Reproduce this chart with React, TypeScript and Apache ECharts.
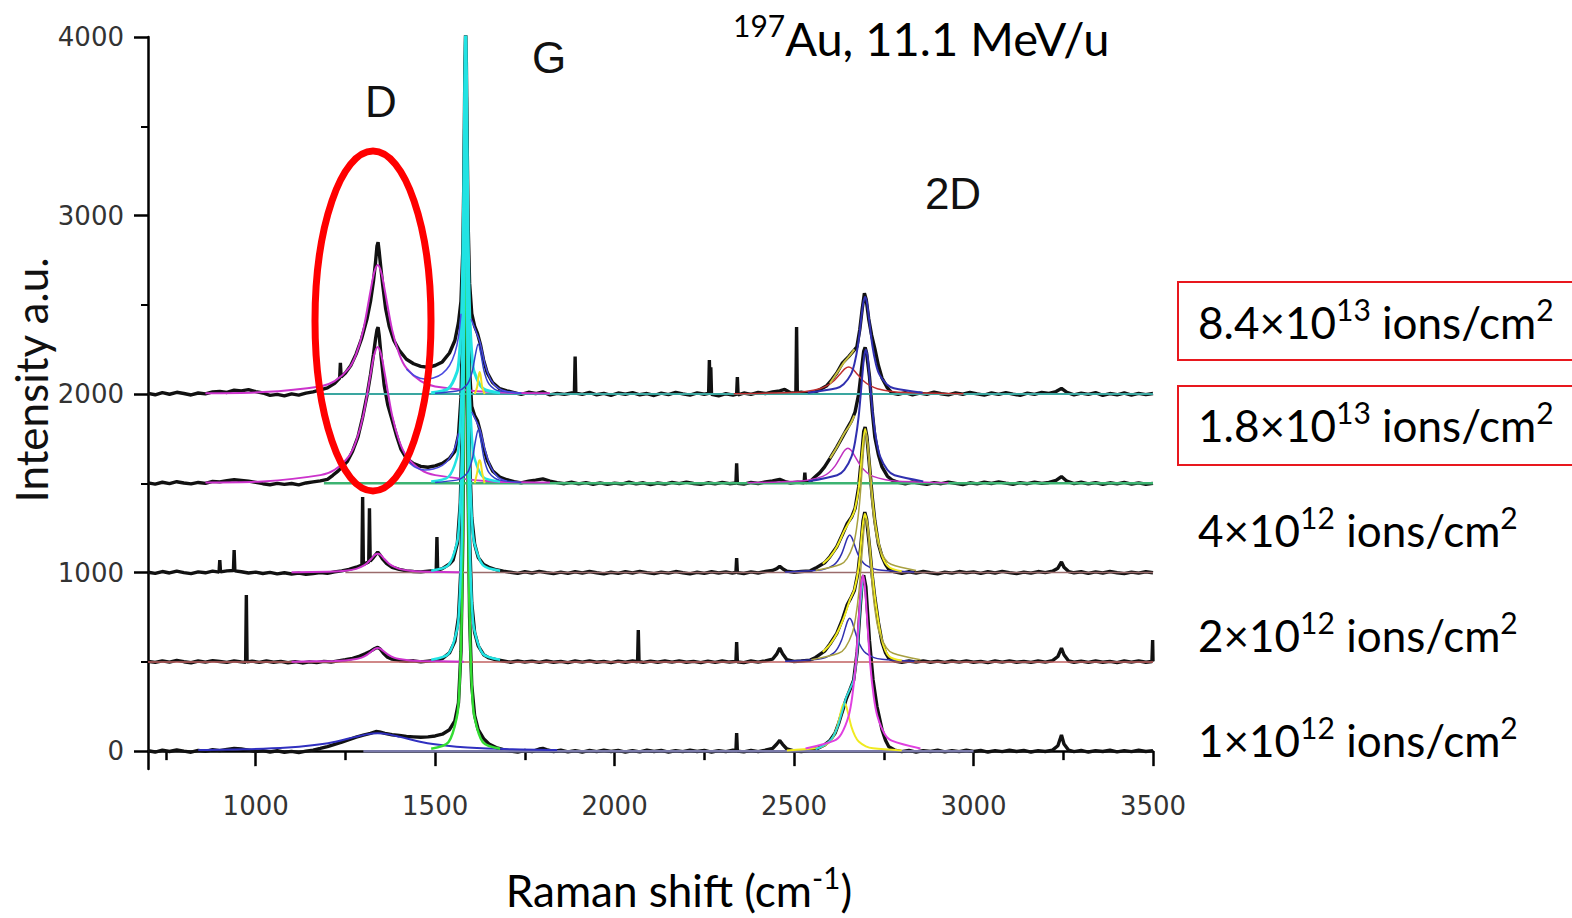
import React, { useEffect, useRef } from "react";
import * as echarts from "echarts";

const xTicksMajor = [1000, 1500, 2000, 2500, 3000, 3500];
const xTicksMinor = [750, 1250, 1750, 2250, 2750, 3250];
const yTicksMajor = [0, 1000, 2000, 3000, 4000];
const yTicksMinor = [500, 1500, 2500, 3500];

const fluenceMant = ["8.4×10", "1.8×10", "4×10", "2×10", "1×10"];
const fluenceExp = ["13", "13", "12", "12", "12"];
const fluenceY = [322, 425, 530, 635, 740];

type P = [number, number];

// ---- measured spectra (black) ----
const specA: P[] = [[700,2004],[720,1996],[740,2008],[760,1999],[780,2010],[800,2003],[820,1995],[840,2006],[860,2001],[880,2012],[900,2015],[920,2009],[940,2022],[960,2018],[980,2025],[1000,2014],[1020,2006],[1040,1993],[1060,1998],[1080,1990],[1100,2001],[1120,1994],[1140,2005],[1160,2012],[1180,2024],[1200,2035],[1220,2060],[1234,2090],[1236,2175],[1238,2095],[1250,2118],[1265,2160],[1280,2225],[1295,2310],[1310,2420],[1320,2520],[1328,2630],[1334,2740],[1338,2830],[1341,2850],[1344,2800],[1348,2720],[1354,2610],[1362,2480],[1372,2380],[1385,2300],[1400,2245],[1420,2195],[1440,2170],[1460,2155],[1480,2150],[1500,2160],[1520,2180],[1540,2230],[1555,2300],[1565,2400],[1572,2520],[1577,2800],[1580,3200],[1583,3850],[1585,4050],[1587,3850],[1589,3450],[1592,2950],[1596,2620],[1602,2450],[1610,2380],[1618,2340],[1626,2280],[1635,2190],[1645,2120],[1660,2065],[1680,2030],[1700,2018],[1720,2008],[1740,1998],[1760,2010],[1780,2003],[1800,2012],[1820,1995],[1840,2004],[1860,1998],[1880,2006],[1888,2007],[1890,2210],[1892,2005],[1910,1998],[1930,2009],[1950,1996],[1970,2004],[1990,1993],[2010,2006],[2030,1999],[2050,2008],[2070,1996],[2090,2003],[2110,1992],[2130,2005],[2150,1997],[2170,2010],[2190,2001],[2210,1994],[2230,2007],[2250,1999],[2262,2004],[2264,2190],[2266,2000],[2268,2150],[2270,1998],[2290,1990],[2310,2002],[2330,1994],[2340,2000],[2342,2095],[2344,1996],[2360,2006],[2380,1998],[2400,2009],[2420,2003],[2440,2012],[2460,2018],[2474,2026],[2490,2008],[2505,2005],[2507,2375],[2509,2006],[2520,2010],[2540,2004],[2558,2011],[2575,2028],[2590,2045],[2605,2080],[2619,2118],[2635,2175],[2652,2210],[2665,2240],[2675,2265],[2683,2360],[2690,2480],[2696,2565],[2701,2530],[2708,2420],[2716,2330],[2725,2255],[2735,2160],[2745,2090],[2760,2035],[2773,2005],[2790,1998],[2810,2008],[2830,1996],[2850,2005],[2870,1999],[2890,2011],[2910,2002],[2930,1996],[2950,2007],[2970,1999],[2990,2009],[3010,2001],[3030,1994],[3050,2006],[3070,1998],[3090,2008],[3110,2000],[3130,1993],[3150,2005],[3170,1998],[3190,2009],[3210,2004],[3230,2014],[3245,2032],[3260,2010],[3280,1996],[3300,2005],[3320,1998],[3340,2008],[3360,1993],[3380,2003],[3400,1996],[3420,2006],[3440,1994],[3460,2004],[3480,1997],[3500,2003]];

const specB: P[] = [[700,1503],[720,1496],[740,1506],[760,1498],[780,1509],[800,1502],[820,1497],[840,1505],[860,1500],[880,1511],[900,1508],[920,1515],[940,1520],[960,1516],[980,1512],[1000,1505],[1020,1498],[1040,1492],[1060,1500],[1080,1494],[1100,1499],[1120,1491],[1140,1502],[1160,1508],[1180,1514],[1200,1522],[1215,1545],[1230,1570],[1245,1600],[1256,1625],[1270,1680],[1285,1760],[1298,1870],[1310,1990],[1320,2110],[1328,2220],[1334,2310],[1338,2360],[1341,2375],[1344,2330],[1350,2200],[1358,2050],[1368,1940],[1378,1870],[1392,1770],[1405,1690],[1420,1640],[1440,1610],[1460,1595],[1480,1590],[1500,1598],[1520,1612],[1540,1640],[1555,1680],[1565,1770],[1572,1980],[1577,2420],[1580,2960],[1583,3660],[1585,3900],[1587,3660],[1589,3180],[1592,2560],[1596,2130],[1602,1930],[1610,1880],[1618,1850],[1626,1790],[1635,1700],[1645,1630],[1660,1570],[1680,1535],[1700,1520],[1720,1510],[1740,1503],[1760,1512],[1780,1518],[1800,1525],[1820,1512],[1840,1504],[1860,1498],[1880,1506],[1900,1497],[1920,1504],[1940,1495],[1960,1503],[1980,1494],[2000,1501],[2020,1496],[2040,1506],[2060,1497],[2080,1503],[2100,1493],[2120,1502],[2140,1496],[2160,1505],[2180,1498],[2200,1507],[2220,1499],[2240,1494],[2260,1503],[2280,1497],[2300,1505],[2320,1498],[2338,1502],[2340,1612],[2342,1500],[2360,1496],[2380,1505],[2400,1499],[2420,1508],[2440,1513],[2460,1522],[2475,1510],[2490,1502],[2510,1507],[2528,1503],[2530,1560],[2532,1504],[2545,1510],[2558,1535],[2572,1560],[2585,1592],[2600,1640],[2619,1703],[2635,1760],[2650,1815],[2660,1850],[2670,1900],[2680,2000],[2688,2140],[2694,2240],[2698,2262],[2702,2230],[2710,2100],[2718,1900],[2725,1760],[2735,1660],[2745,1592],[2760,1540],[2773,1518],[2790,1505],[2810,1497],[2830,1508],[2850,1500],[2870,1494],[2890,1504],[2910,1498],[2930,1507],[2950,1500],[2970,1493],[2990,1503],[3010,1497],[3030,1506],[3050,1499],[3070,1508],[3090,1501],[3110,1495],[3130,1504],[3150,1498],[3170,1507],[3190,1500],[3210,1505],[3230,1516],[3245,1538],[3260,1512],[3280,1498],[3300,1506],[3320,1497],[3340,1504],[3360,1495],[3380,1503],[3400,1497],[3420,1505],[3440,1496],[3460,1503],[3480,1495],[3500,1500]];

const specC: P[] = [[700,1002],[720,996],[740,1006],[760,998],[780,1008],[800,1000],[820,994],[840,1004],[860,999],[880,1008],[898,1003],[900,1070],[902,1004],[920,1010],[938,1012],[940,1126],[942,1010],[960,1005],[980,998],[1000,1003],[1020,995],[1040,1001],[1060,993],[1080,999],[1100,992],[1120,997],[1140,990],[1160,995],[1180,1000],[1200,996],[1220,1004],[1240,1010],[1260,1018],[1280,1030],[1296,1042],[1298,1423],[1300,1046],[1315,1060],[1317,1361],[1319,1064],[1326,1080],[1334,1100],[1340,1115],[1346,1100],[1354,1075],[1365,1050],[1380,1030],[1400,1018],[1420,1010],[1440,1006],[1460,1004],[1480,1008],[1503,1012],[1505,1199],[1507,1014],[1520,1022],[1540,1048],[1550,1070],[1562,1165],[1570,1390],[1576,1850],[1580,2650],[1583,3520],[1585,3800],[1587,3520],[1589,2950],[1592,2180],[1596,1640],[1602,1310],[1610,1160],[1620,1085],[1635,1045],[1650,1030],[1670,1016],[1690,1008],[1710,1002],[1730,996],[1750,1005],[1770,998],[1790,1007],[1810,1000],[1830,994],[1850,1003],[1870,996],[1890,1005],[1910,998],[1930,1006],[1950,999],[1970,993],[1990,1002],[2010,996],[2030,1005],[2050,998],[2070,1007],[2090,1000],[2110,994],[2130,1003],[2150,997],[2170,1006],[2190,999],[2210,993],[2230,1002],[2250,996],[2270,1005],[2290,998],[2310,1004],[2328,997],[2338,1002],[2340,1081],[2342,1000],[2360,995],[2380,1004],[2400,998],[2420,1006],[2440,1012],[2452,1022],[2460,1035],[2468,1022],[2480,1008],[2500,1002],[2520,1006],[2545,1010],[2560,1025],[2585,1055],[2600,1090],[2619,1145],[2635,1215],[2648,1275],[2660,1310],[2670,1360],[2680,1480],[2688,1650],[2694,1790],[2698,1815],[2703,1760],[2710,1600],[2718,1420],[2725,1290],[2735,1160],[2745,1090],[2755,1045],[2764,1018],[2780,1004],[2800,996],[2820,1005],[2840,998],[2860,1006],[2880,999],[2900,993],[2920,1003],[2940,997],[2960,1006],[2980,999],[3000,1004],[3020,996],[3040,1005],[3060,998],[3080,1007],[3100,1000],[3120,994],[3140,1003],[3160,997],[3180,1006],[3200,1000],[3220,1008],[3235,1025],[3245,1060],[3252,1030],[3265,1006],[3280,999],[3300,1005],[3320,996],[3340,1004],[3360,998],[3380,1006],[3400,999],[3420,994],[3440,1003],[3460,997],[3480,1005],[3500,999]];

const specD: P[] = [[700,503],[720,497],[740,506],[760,499],[780,508],[800,501],[820,495],[840,505],[860,499],[880,507],[900,502],[920,497],[940,506],[960,500],[972,498],[974,874],[976,500],[990,504],[1010,497],[1030,505],[1050,498],[1070,503],[1090,495],[1110,501],[1130,494],[1150,500],[1170,496],[1190,503],[1210,499],[1230,506],[1250,512],[1270,520],[1290,532],[1305,545],[1320,560],[1332,575],[1340,582],[1348,570],[1356,548],[1366,528],[1380,515],[1400,508],[1420,503],[1440,506],[1460,500],[1480,504],[1500,508],[1520,518],[1540,550],[1555,615],[1565,750],[1572,1030],[1577,1580],[1580,2270],[1583,3200],[1585,3500],[1587,3200],[1589,2560],[1592,1760],[1596,1190],[1602,830],[1610,665],[1620,590],[1635,540],[1650,522],[1670,512],[1690,505],[1710,498],[1730,506],[1750,499],[1770,504],[1790,497],[1810,505],[1830,498],[1850,503],[1870,496],[1890,505],[1910,499],[1930,506],[1950,498],[1970,503],[1990,496],[2010,504],[2030,498],[2050,505],[2064,501],[2066,678],[2068,502],[2080,497],[2100,504],[2120,498],[2140,505],[2160,499],[2180,506],[2200,498],[2220,503],[2240,496],[2260,504],[2280,497],[2300,505],[2320,499],[2338,503],[2340,611],[2342,500],[2360,496],[2380,505],[2400,499],[2420,506],[2440,515],[2452,545],[2460,577],[2468,545],[2480,512],[2500,502],[2520,505],[2545,510],[2560,525],[2585,560],[2600,600],[2619,660],[2635,740],[2648,820],[2658,857],[2668,900],[2678,1000],[2686,1150],[2692,1290],[2697,1339],[2702,1300],[2710,1150],[2718,980],[2725,860],[2735,720],[2745,610],[2755,550],[2764,520],[2780,505],[2800,498],[2820,505],[2840,499],[2860,506],[2880,498],[2900,504],[2920,497],[2940,505],[2960,499],[2980,506],[3000,498],[3020,503],[3040,496],[3060,505],[3080,499],[3100,506],[3120,498],[3140,503],[3160,497],[3180,505],[3200,499],[3220,507],[3235,530],[3245,577],[3252,540],[3265,505],[3280,498],[3300,504],[3320,497],[3340,505],[3360,498],[3380,503],[3400,496],[3420,505],[3440,499],[3460,506],[3480,498],[3497,502],[3499,622],[3500,503]];

const specE: P[] = [[700,2],[720,-5],[740,6],[760,-2],[780,7],[800,0],[820,-6],[840,4],[860,-1],[880,8],[900,3],[920,10],[940,15],[960,12],[980,6],[1000,-2],[1020,3],[1040,-5],[1060,2],[1080,-6],[1100,-1],[1120,-8],[1140,0],[1160,6],[1180,15],[1200,25],[1220,38],[1240,50],[1260,64],[1280,78],[1300,90],[1320,100],[1335,110],[1345,108],[1360,100],[1380,92],[1400,88],[1420,82],[1440,80],[1460,78],[1480,80],[1500,85],[1520,95],[1540,120],[1555,170],[1565,270],[1572,560],[1577,1180],[1580,1940],[1583,2950],[1585,3300],[1587,2980],[1589,2400],[1592,1450],[1596,750],[1602,370],[1610,200],[1620,120],[1635,70],[1650,40],[1670,20],[1690,8],[1710,0],[1730,-5],[1750,4],[1770,-3],[1790,12],[1800,15],[1810,8],[1830,-2],[1850,5],[1870,-4],[1890,3],[1910,-5],[1930,4],[1950,-3],[1970,6],[1990,-2],[2010,4],[2030,-5],[2050,3],[2070,-4],[2090,5],[2110,-2],[2130,4],[2150,-5],[2170,3],[2190,-3],[2210,5],[2230,-2],[2250,4],[2270,-5],[2290,3],[2310,-3],[2330,5],[2338,2],[2340,101],[2342,0],[2360,-4],[2380,4],[2400,-3],[2420,5],[2440,15],[2452,40],[2460,60],[2468,38],[2480,12],[2500,2],[2520,-3],[2545,5],[2565,15],[2585,35],[2600,60],[2614,100],[2625,160],[2633,213],[2645,290],[2655,340],[2666,398],[2676,560],[2684,800],[2690,960],[2694,985],[2700,920],[2710,620],[2720,400],[2731,250],[2745,120],[2755,60],[2764,25],[2780,6],[2800,-3],[2820,4],[2840,-5],[2860,3],[2880,-2],[2900,5],[2920,-4],[2940,3],[2960,-3],[2980,5],[3000,-2],[3020,4],[3040,-5],[3060,3],[3080,-3],[3100,5],[3120,-2],[3140,4],[3160,-5],[3180,3],[3200,-2],[3220,6],[3235,30],[3245,90],[3252,40],[3265,5],[3280,-3],[3300,4],[3320,-5],[3340,3],[3360,-2],[3380,5],[3400,-4],[3420,3],[3440,-3],[3460,5],[3480,-2],[3500,3]];

// ---- fitted components ----
const fitDA: P[] = [[860,2005],[1020,2011],[1180,2043],[1220,2072],[1260,2145],[1280,2224],[1300,2361],[1320,2578],[1330,2680],[1340,2723],[1350,2680],[1360,2578],[1380,2361],[1400,2224],[1420,2145],[1460,2072],[1500,2043],[1660,2011],[1820,2005]];
const fitDB: P[] = [[860,1505],[1020,1511],[1180,1546],[1220,1576],[1260,1653],[1280,1737],[1300,1882],[1320,2110],[1330,2217],[1340,2263],[1350,2217],[1360,2110],[1380,1882],[1400,1737],[1420,1653],[1460,1576],[1500,1546],[1660,1511],[1820,1505]];
const fitDC: P[] = [[1100,1002],[1220,1006],[1250,1011],[1280,1021],[1295,1033],[1310,1053],[1325,1084],[1332,1099],[1340,1105],[1348,1099],[1355,1084],[1370,1053],[1385,1033],[1400,1021],[1430,1011],[1460,1006],[1580,1002]];
const fitDD: P[] = [[1100,501],[1220,505],[1250,508],[1280,516],[1295,524],[1310,539],[1325,562],[1332,573],[1340,578],[1348,573],[1355,562],[1370,539],[1385,524],[1400,516],[1430,508],[1460,505],[1580,501]];
const fitDE: P[] = [[840,6],[965,10],[1090,20],[1152,31],[1215,50],[1278,80],[1309,94],[1340,100],[1371,94],[1402,80],[1465,50],[1528,31],[1590,20],[1715,10],[1840,6]];

const fitGA: P[] = [[1489,2008],[1537,2031],[1561,2123],[1567,2205],[1573,2410],[1576,2636],[1579,3025],[1582,3640],[1583.5,3927],[1585,4050],[1586.5,3927],[1588,3640],[1591,3025],[1594,2636],[1597,2410],[1603,2205],[1609,2123],[1633,2031],[1681,2008]];
const fitGB: P[] = [[1489,1510],[1537,1536],[1561,1644],[1567,1740],[1573,1980],[1576,2244],[1579,2700],[1582,3420],[1583.5,3756],[1585,3900],[1586.5,3756],[1588,3420],[1591,2700],[1594,2244],[1597,1980],[1603,1740],[1609,1644],[1633,1536],[1681,1510]];
const fitGC: P[] = [[1489,1011],[1537,1042],[1561,1168],[1567,1280],[1573,1560],[1576,1868],[1579,2400],[1582,3240],[1583.5,3632],[1585,3800],[1586.5,3632],[1588,3240],[1591,2400],[1594,1868],[1597,1560],[1603,1280],[1609,1168],[1633,1042],[1681,1011]];
const fitGD: P[] = [[1489,512],[1537,545],[1561,680],[1567,800],[1573,1100],[1576,1430],[1579,2000],[1582,2900],[1583.5,3320],[1585,3500],[1586.5,3320],[1588,2900],[1591,2000],[1594,1430],[1597,1100],[1603,800],[1609,680],[1633,545],[1681,512]];
const fitGE: P[] = [[1489,13],[1537,50],[1561,198],[1567,330],[1573,660],[1576,1023],[1579,1650],[1582,2640],[1583.5,3102],[1585,3300],[1586.5,3102],[1588,2640],[1591,1650],[1594,1023],[1597,660],[1603,330],[1609,198],[1633,50],[1681,13]];

const fitDpA: P[] = [[1500,2004],[1560,2017],[1575,2028],[1590,2056],[1597.5,2087],[1605,2140],[1612.5,2224],[1620,2280],[1627.5,2224],[1635,2140],[1642.5,2087],[1650,2056],[1665,2028],[1680,2017],[1740,2004]];
const fitDpB: P[] = [[1500,1505],[1560,1518],[1575,1530],[1590,1560],[1597.5,1593],[1605,1650],[1612.5,1740],[1620,1800],[1627.5,1740],[1635,1650],[1642.5,1593],[1650,1560],[1665,1530],[1680,1518],[1740,1505]];
const envLA: P[] = [[1420,2140],[1445,2100],[1470,2085],[1495,2090],[1520,2115],[1540,2160],[1555,2230],[1565,2320],[1572,2450]];
const envRA: P[] = [[1600,2420],[1612,2360],[1625,2290],[1640,2160],[1655,2080],[1675,2035],[1700,2015],[1740,2005]];
const envLB: P[] = [[1420,1630],[1445,1590],[1470,1575],[1495,1580],[1520,1600],[1540,1640],[1555,1700],[1565,1780]];
const envRB: P[] = [[1602,1900],[1612,1860],[1625,1800],[1640,1680],[1655,1590],[1675,1535],[1700,1512]];
const fitYA: P[] = [[1610,2000],[1617,2040],[1621,2100],[1624,2123],[1627,2100],[1631,2040],[1638,2000]];
const fitYB: P[] = [[1610,1500],[1617,1560],[1621,1615],[1624,1630],[1627,1615],[1631,1560],[1638,1500]];

const fit2DredA: P[] = [[2332,2002],[2492,2009],[2532,2015],[2572,2030],[2592,2047],[2612,2076],[2632,2121],[2642,2142],[2652,2151],[2662,2142],[2672,2121],[2692,2076],[2712,2047],[2732,2030],[2772,2015],[2812,2009],[2972,2002]];
const fit2DblueA: P[] = [[2538,2008],[2618,2033],[2638,2055],[2658,2109],[2668,2169],[2678,2273],[2688,2436],[2693,2512],[2698,2545],[2703,2512],[2708,2436],[2718,2273],[2728,2169],[2738,2109],[2758,2055],[2778,2033],[2858,2008]];
const env2DA: P[] = [[2600,2060],[2620,2120],[2640,2180],[2655,2215],[2668,2250]];
const fit2DmagB: P[] = [[2370,1503],[2510,1512],[2545,1520],[2580,1539],[2597.5,1561],[2615,1599],[2632.5,1658],[2641.25,1685],[2650,1697],[2658.75,1685],[2667.5,1658],[2685,1599],[2702.5,1561],[2720,1539],[2755,1520],[2790,1512],[2930,1503]];
const fit2DblueB: P[] = [[2540,1511],[2620,1545],[2640,1575],[2660,1650],[2670,1733],[2680,1875],[2690,2100],[2695,2205],[2700,2250],[2705,2205],[2710,2100],[2720,1875],[2730,1733],[2740,1650],[2760,1575],[2780,1545],[2860,1511]];
const env2DB: P[] = [[2600,1640],[2620,1705],[2640,1780],[2655,1825],[2668,1880]];
const fit2DblueC: P[] = [[2475,1003],[2565,1013],[2587.5,1021],[2610,1042],[2621.25,1065],[2632.5,1105],[2643.75,1168],[2649.4,1197],[2655,1210],[2660.6,1197],[2666.25,1168],[2677.5,1105],[2688.75,1065],[2700,1042],[2722.5,1021],[2745,1013],[2835,1003]];
const fit2DoliveC: P[] = [[2560,1012],[2630,1047],[2647.5,1078],[2665,1156],[2673.75,1242],[2682.5,1390],[2691.25,1624],[2695.6,1733],[2700,1780],[2704.4,1733],[2708.75,1624],[2717.5,1390],[2726.25,1242],[2735,1156],[2752.5,1078],[2770,1047],[2840,1012]];
const env2DC: P[] = [[2580,1050],[2600,1088],[2620,1148],[2640,1235],[2655,1290],[2668,1345],[2680,1470],[2690,1680],[2698,1805],[2706,1700],[2716,1460],[2728,1250],[2745,1095],[2765,1030],[2800,1008]];
const fit2DblueD: P[] = [[2475,504],[2565,515],[2587.5,524],[2610,549],[2621.25,576],[2632.5,622],[2643.75,696],[2649.4,730],[2655,745],[2660.6,730],[2666.25,696],[2677.5,622],[2688.75,576],[2700,549],[2722.5,524],[2745,515],[2835,504]];
const fit2DoliveD: P[] = [[2548,512],[2624,548],[2643,580],[2662,660],[2671.5,748],[2681,900],[2690.5,1140],[2695.25,1252],[2700,1300],[2704.75,1252],[2709.5,1140],[2719,900],[2728.5,748],[2738,660],[2757,580],[2776,548],[2852,512]];
const env2DD: P[] = [[2580,555],[2600,598],[2620,662],[2640,755],[2655,845],[2668,905],[2680,1030],[2690,1240],[2697,1330],[2705,1260],[2715,1050],[2728,820],[2745,620],[2765,530],[2800,508]];
const fit2DmagE: P[] = [[2532,15],[2612,59],[2632,98],[2652,197],[2662,305],[2672,492],[2682,788],[2687,926],[2692,985],[2697,926],[2702,788],[2712,492],[2722,305],[2732,197],[2752,98],[2772,59],[2852,15]];
const fit2DyelE: P[] = [[2480,4],[2560,16],[2580,27],[2600,54],[2610,84],[2620,135],[2630,216],[2635,254],[2640,270],[2645,254],[2650,216],[2660,135],[2670,84],[2680,54],[2700,27],[2720,16],[2800,4]];
const env2DE: P[] = [[2560,10],[2585,35],[2605,70],[2620,130],[2633,215],[2645,300],[2655,345],[2666,400],[2676,560],[2684,800],[2692,975]];

const baseA: P[] = [[1175,2000],[3500,2000]];
const baseB: P[] = [[1190,1500],[3500,1500]];
const baseC: P[] = [[1250,1000],[3500,1000]];
const baseD: P[] = [[700,500],[3500,500]];
const baseE: P[] = [[1300,0],[3000,0]];

const BIG = "Lato, 'Open Sans', sans-serif";
const ARIAL = "'Liberation Sans', Arial, sans-serif";
const TICK = "'DejaVu Sans', sans-serif";

function ln(data: P[], color: string, width: number, z: number, smooth: number | boolean = false) {
  return {
    type: "line",
    data,
    showSymbol: false,
    symbol: "none",
    smooth,
    clip: true,
    silent: true,
    z,
    lineStyle: { color, width },
  };
}

export default function App() {
  const ref = useRef<HTMLDivElement>(null);
  useEffect(() => {
    document.body.style.margin = "0";
    if (!ref.current) return;
    const chart = echarts.init(ref.current, undefined, { renderer: "svg" });
    const black = "#111111";
    const cyan = "#22e3e3";
    const bw = 3.4;
    const series: any[] = [
      ln(specE, black, bw, 2), ln(specD, black, bw, 2), ln(specC, black, bw, 2), ln(specB, black, bw, 2), ln(specA, black, bw, 2),
      ln(baseA, "#3aa6a0", 2, 3), ln(baseB, "#3cb371", 2.5, 3), ln(baseC, "#9a6b6b", 1.5, 3), ln(baseD, "#c06060", 1.5, 3), ln(baseE, "#7a7aaa", 2.5, 3),
      ln(fitDA, "#cc33cc", 2, 4, 0.3), ln(fitDB, "#cc33cc", 2, 4, 0.3), ln(fitDC, "#cc33cc", 2, 4, 0.3), ln(fitDD, "#cc33cc", 2, 4, 0.3), ln(fitDE, "#3030c0", 2, 4, 0.3),
      ln(fitGE, "#33dd33", 2.5, 4, 0.3), ln(fitGD, cyan, 2.5, 4, 0.3), ln(fitGC, cyan, 2.5, 4, 0.3), ln(fitGB, cyan, 2.5, 4, 0.3), ln(fitGA, cyan, 3, 4, 0.3),
      ln(fitDpA, "#3040c8", 1.5, 4, 0.3), ln(fitDpB, "#3040c8", 1.5, 4, 0.3),
      ln(envLA, "#4a4ae0", 1.5, 4, 0.3), ln(envRA, "#4a4ae0", 1.5, 4, 0.3), ln(envLB, "#4a4ae0", 1.5, 4, 0.3), ln(envRB, "#4a4ae0", 1.5, 4, 0.3),
      ln(fitYA, "#f0e020", 2, 4, 0.3), ln(fitYB, "#f0e020", 2, 4, 0.3),
      ln(fit2DredA, "#c03030", 1.5, 4, 0.3), ln(env2DA, "#c8c040", 2, 4, 0.3), ln(fit2DblueA, "#3030b0", 2, 4, 0.3),
      ln(fit2DmagB, "#c030c0", 1.5, 4, 0.3), ln(env2DB, "#c8c040", 2, 4, 0.3), ln(fit2DblueB, "#3030b0", 2, 4, 0.3),
      ln(fit2DblueC, "#3030b0", 1.5, 4, 0.3), ln(env2DC, "#f0ea20", 2, 4, 0.3), ln(fit2DoliveC, "#a8a040", 1.5, 4, 0.3),
      ln(fit2DblueD, "#3030b0", 1.5, 4, 0.3), ln(env2DD, "#f0ea20", 2, 4, 0.3), ln(fit2DoliveD, "#a8a040", 1.5, 4, 0.3),
      ln(fit2DyelE, "#f0ea20", 2, 4, 0.3), ln(env2DE, "#30d8d8", 2, 4, 0.3), ln(fit2DmagE, "#e040e0", 2, 4, 0.3),
    ];

    const labelRich = {
      n: { fontSize: 44, fontFamily: BIG, color: "#111" },
      s: { fontSize: 30, fontFamily: BIG, color: "#111", padding: [0, 0, 26, 0] },
    };

    const graphics: any[] = [
      { type: "ellipse", shape: { cx: 373, cy: 321, rx: 58, ry: 170 }, style: { fill: "none", stroke: "#ff0000", lineWidth: 7 }, z: 100 },
      { type: "rect", shape: { x: 1178, y: 282, width: 420, height: 78 }, style: { fill: "none", stroke: "#e8181e", lineWidth: 2 }, z: 100 },
      { type: "rect", shape: { x: 1178, y: 386, width: 420, height: 79 }, style: { fill: "none", stroke: "#e8181e", lineWidth: 2 }, z: 100 },
      { type: "text", x: 381, y: 101, style: { text: "D", fontSize: 44, fontFamily: ARIAL, fill: "#111", align: "center", verticalAlign: "middle" }, z: 100 },
      { type: "text", x: 549, y: 57, style: { text: "G", fontSize: 44, fontFamily: ARIAL, fill: "#111", align: "center", verticalAlign: "middle" }, z: 100 },
      { type: "text", x: 953, y: 193, style: { text: "2D", fontSize: 44, fontFamily: ARIAL, fill: "#111", align: "center", verticalAlign: "middle" }, z: 100 },
      { type: "text", x: 733, y: 38, style: { text: "{s|197}{n|Au, 11.1 MeV/u}", rich: { n: { fontSize: 47, fontFamily: BIG, color: "#111" }, s: { fontSize: 30, fontFamily: BIG, color: "#111", padding: [0, 0, 26, 0] } }, align: "left", verticalAlign: "middle" }, z: 100 },
      { type: "text", x: 31, y: 380, rotation: Math.PI / 2, style: { text: "Intensity a.u.", fontSize: 44, fontFamily: BIG, fill: "#111", align: "center", verticalAlign: "middle" }, z: 100 },
      { type: "text", x: 679, y: 890, style: { text: "{n|Raman shift (cm}{s|-1}{n|)}", rich: labelRich, align: "center", verticalAlign: "middle" }, z: 100 },
    ];
    fluenceMant.forEach((m, i) => {
      graphics.push({
        type: "text", x: 1198, y: fluenceY[i],
        style: { text: `{n|${m}}{s|${fluenceExp[i]}}{n| ions/cm}{s|2}`, rich: labelRich, align: "left", verticalAlign: "middle" },
        z: 100,
      });
    });

    const fmt = (v: number) => String(v);
    const axisLine = { show: true, lineStyle: { color: "#000", width: 2.5 } };
    chart.setOption({
      animation: false,
      grid: { left: 148, top: 37, right: 419, bottom: 149, containLabel: false, outerBoundsMode: "none" },
      xAxis: [
        {
          type: "value", min: 700, max: 3500, position: "bottom",
          axisLine, splitLine: { show: false },
          axisTick: { show: true, length: 15, customValues: xTicksMajor, lineStyle: { color: "#000", width: 2.5 } },
          axisLabel: { show: true, customValues: xTicksMajor, formatter: fmt, margin: 24, fontSize: 26, fontFamily: TICK, color: "#333" },
        },
        {
          type: "value", min: 700, max: 3500, position: "bottom",
          axisLine: { show: false }, splitLine: { show: false },
          axisTick: { show: true, length: 9, customValues: xTicksMinor, lineStyle: { color: "#000", width: 2.5 } },
          axisLabel: { show: false },
        },
      ],
      yAxis: [
        {
          type: "value", min: -100, max: 4000, position: "left",
          axisLine, splitLine: { show: false },
          axisTick: { show: true, length: 14, customValues: yTicksMajor, lineStyle: { color: "#000", width: 2.5 } },
          axisLabel: { show: true, customValues: yTicksMajor, formatter: fmt, margin: 24, fontSize: 26, fontFamily: TICK, color: "#333" },
        },
        {
          type: "value", min: -100, max: 4000, position: "left",
          axisLine: { show: false }, splitLine: { show: false },
          axisTick: { show: true, length: 7, customValues: yTicksMinor, lineStyle: { color: "#000", width: 2 } },
          axisLabel: { show: false },
        },
      ],
      series,
      graphic: graphics,
    });
    return () => chart.dispose();
  }, []);
  return <div ref={ref} style={{ width: 1572, height: 918 }} />;
}
